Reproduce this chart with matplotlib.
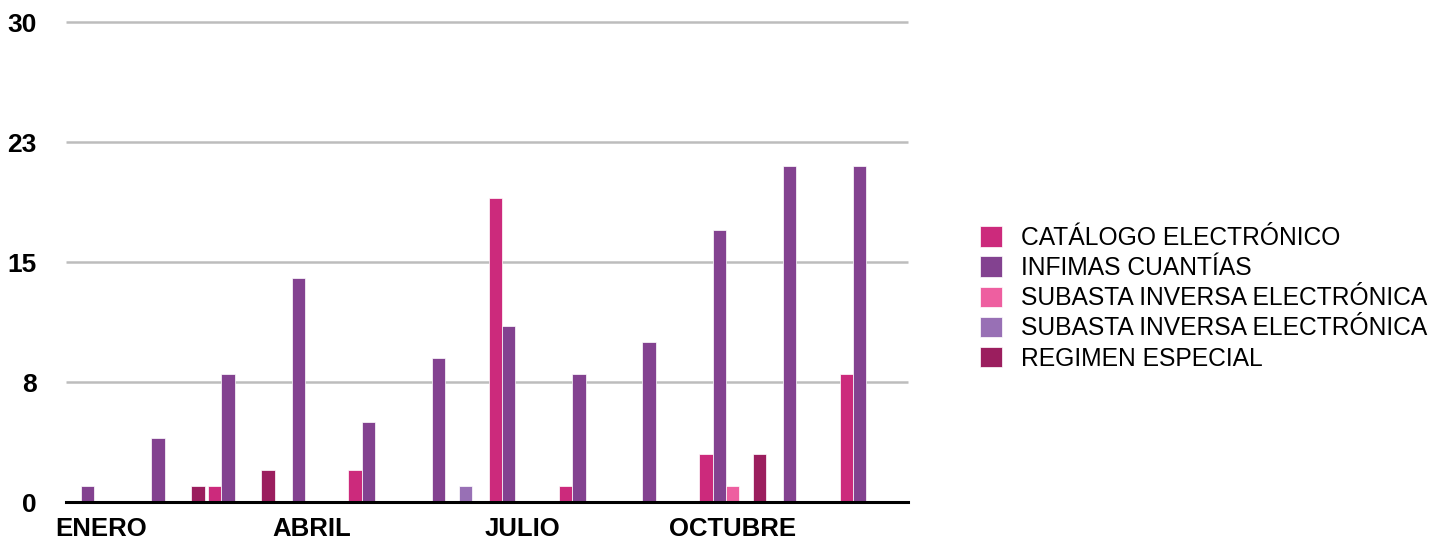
import numpy as np
import matplotlib
matplotlib.use("Agg")
import matplotlib.pyplot as plt
from matplotlib.patches import Patch

plt.rcParams["font.family"] = ["Liberation Sans", "DejaVu Sans"]

meses = ["ENERO", "FEBRERO", "MARZO", "ABRIL", "MAYO", "JUNIO",
         "JULIO", "AGOSTO", "SEPTIEMBRE", "OCTUBRE", "NOVIEMBRE", "DICIEMBRE"]

series = [
    "CATÁLOGO ELECTRÓNICO",
    "INFIMAS CUANTÍAS",
    "SUBASTA INVERSA ELECTRÓNICA",
    "SUBASTA INVERSA ELECTRÓNICA",
    "REGIMEN ESPECIAL",
]
catalogo = [0, 0, 1, 0, 2, 0, 19, 1, 0, 3, 0, 8]
infimas = [1, 4, 8, 14, 5, 9, 11, 8, 10, 17, 21, 21]
subasta_1 = [0, 0, 0, 0, 0, 0, 0, 0, 0, 1, 0, 0]
subasta_2 = [0, 0, 0, 0, 0, 1, 0, 0, 0, 0, 0, 0]
regimen = [0, 1, 2, 0, 0, 0, 0, 0, 0, 3, 0, 0]

colors = ["#cc2a7c", "#834290", "#ee5fa0", "#9870b5", "#9b1e5e"]

y_ticks = [0, 7.5, 15, 22.5, 30]
y_tick_labels = ["0", "8", "15", "23", "30"]
x_label_idx = [0, 3, 6, 9]

fig = plt.figure(figsize=(14.52, 5.41), dpi=100)
ax = fig.add_axes([66 / 1452, 1 - 502 / 541, (908 - 66) / 1452, (502 - 22) / 541])

x = np.arange(len(meses))
w = 0.19
data = [catalogo, infimas, subasta_1, subasta_2, regimen]
for k, (vals, c) in enumerate(zip(data, colors)):
    ax.bar(x + (k - 2) * w, vals, width=w, color=c, edgecolor="white",
           linewidth=0.5, zorder=3)

ax.set_xlim(-0.5, len(meses) - 0.5)
ax.set_ylim(0, 30)

ax.hlines(y_ticks[1:], -0.5, len(meses) - 0.5, colors="#bdbdbd",
          linewidth=1.8, zorder=1, clip_on=False)

ax.set_yticks(y_ticks)
ax.set_yticklabels(y_tick_labels, fontsize=19, fontweight="bold")
ax.set_xticks(x[x_label_idx])
ax.set_xticklabels([meses[i] for i in x_label_idx], fontsize=18.5, fontweight="bold")
ax.tick_params(axis="y", length=0, pad=21)
ax.tick_params(axis="x", length=0, pad=11)

for s in ["top", "right", "left"]:
    ax.spines[s].set_visible(False)
ax.spines["bottom"].set_linewidth(2.2)
ax.spines["bottom"].set_color("black")
ax.spines["bottom"].set_zorder(4)

handles = [Patch(facecolor=c, edgecolor="white", linewidth=0.5) for c in colors]
fig.legend(handles, series, loc="upper left",
           bbox_to_anchor=(980 / 1452, 1 - 226 / 541),
           frameon=False, fontsize=17.7, handlelength=0.9, handleheight=0.9,
           handletextpad=0.75, labelspacing=0.25, borderpad=0, borderaxespad=0)

fig.savefig("out.png", dpi=100)
